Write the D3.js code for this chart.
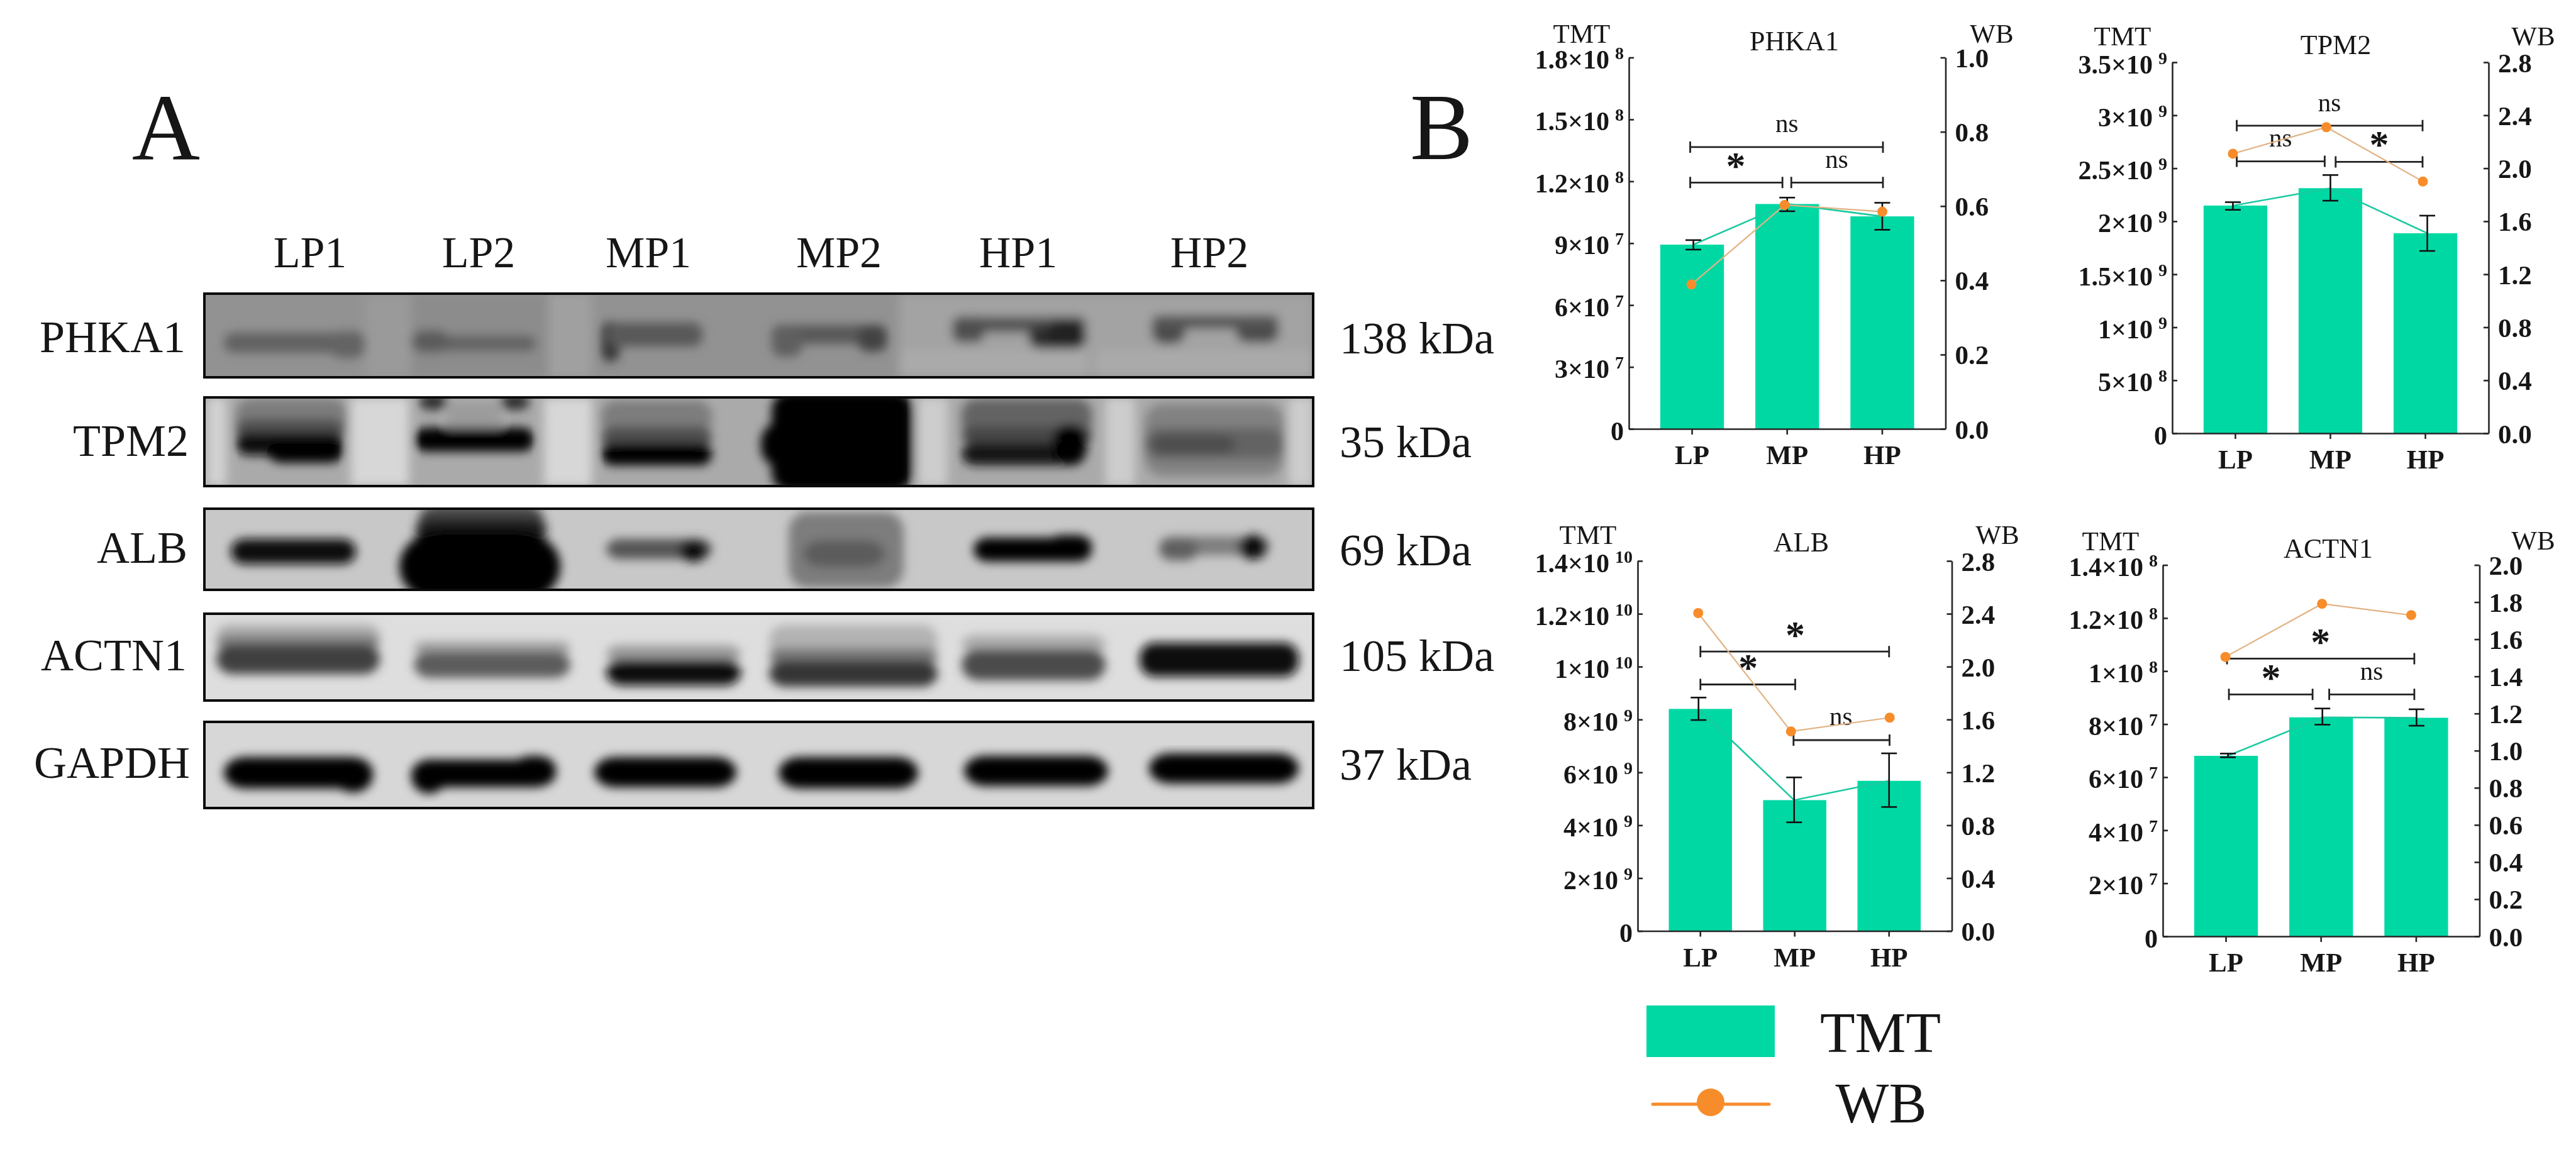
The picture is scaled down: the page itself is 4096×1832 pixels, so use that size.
<!DOCTYPE html>
<html>
<head>
<meta charset="utf-8">
<script src="https://cdn.jsdelivr.net/npm/d3@7/dist/d3.min.js"></script>
<style>
html,body{margin:0;padding:0;background:#fff;}
svg{display:block;filter:blur(0.7px);}
text{font-family:"Liberation Serif","Times New Roman",serif;fill:#161616;}
</style>
</head>
<body>
<div id="chart"></div>
<script>
// ---------- Panel B data ----------
const groups = ["LP","MP","HP"];

const phka1Tmt = [8.93e7,1.09e8,1.03e8];
const phka1Hi  = [9.15e7,1.121e8,1.096e8];
const phka1Lo  = [8.69e7,1.055e8,9.65e7];
const phka1Wb  = [0.389,0.603,0.585];
const phka1LeftTicks  = [0,3e7,6e7,9e7,1.2e8,1.5e8,1.8e8];
const phka1LeftLabels = ["0","3×10^7","6×10^7","9×10^7","1.2×10^8","1.5×10^8","1.8×10^8"];
const phka1RightTicks = [0,0.2,0.4,0.6,0.8,1.0];

const tpm2Tmt = [2.148e9,2.312e9,1.887e9];
const tpm2Hi  = [2.18e9,2.436e9,2.053e9];
const tpm2Lo  = [2.108e9,2.194e9,1.72e9];
const tpm2Wb  = [2.11,2.31,1.90];
const tpm2LeftTicks  = [0,5e8,1e9,1.5e9,2e9,2.5e9,3e9,3.5e9];
const tpm2LeftLabels = ["0","5×10^8","1×10^9","1.5×10^9","2×10^9","2.5×10^9","3×10^9","3.5×10^9"];
const tpm2RightTicks = [0,0.4,0.8,1.2,1.6,2.0,2.4,2.8];

const albTmt = [8.40e9,4.95e9,5.68e9];
const albHi  = [8.83e9,5.81e9,6.72e9];
const albLo  = [7.98e9,4.11e9,4.69e9];
const albWb  = [2.405,1.51,1.614];
const albLeftTicks  = [0,2e9,4e9,6e9,8e9,1e10,1.2e10,1.4e10];
const albLeftLabels = ["0","2×10^9","4×10^9","6×10^9","8×10^9","1×10^10","1.2×10^10","1.4×10^10"];
const albRightTicks = [0,0.4,0.8,1.2,1.6,2.0,2.4,2.8];

const actn1Tmt = [6.805e7,8.256e7,8.24e7];
const actn1Hi  = [6.89e7,8.59e7,8.56e7];
const actn1Lo  = [6.75e7,7.98e7,7.94e7];
const actn1Wb  = [1.505,1.791,1.73];
const actn1LeftTicks  = [0,2e7,4e7,6e7,8e7,1e8,1.2e8,1.4e8];
const actn1LeftLabels = ["0","2×10^7","4×10^7","6×10^7","8×10^7","1×10^8","1.2×10^8","1.4×10^8"];
const actn1RightTicks = [0,0.2,0.4,0.6,0.8,1.0,1.2,1.4,1.6,1.8,2.0];

// significance brackets: from / to on the group index, level and label height on the TMT axis
const phka1Sig = [
  {from:-0.02,to:2.007,level:1.366e8,at:0.996,labelLevel:1.475e8,label:"ns"},
  {from:-0.02,to:0.95,level:1.194e8,at:0.46,labelLevel:1.304e8,label:"*"},
  {from:1.043,to:2.007,level:1.194e8,at:1.52,labelLevel:1.304e8,label:"ns"}];
const tpm2Sig = [
  {from:0.014,to:1.97,level:2.902e9,at:0.99,labelLevel:3.11e9,label:"ns"},
  {from:0.014,to:0.94,level:2.565e9,at:0.476,labelLevel:2.78e9,label:"ns"},
  {from:1.055,to:1.97,level:2.56e9,at:1.513,labelLevel:2.78e9,label:"*"}];
const albSig = [
  {from:0,to:2.0,level:10.57e9,at:1.005,labelLevel:11.42e9,label:"*"},
  {from:0,to:1.005,level:9.325e9,at:0.507,labelLevel:10.18e9,label:"*"},
  {from:0.987,to:2.005,level:7.22e9,at:1.49,labelLevel:8.08e9,label:"ns"}];
const actn1Sig = [
  {from:0.01,to:1.98,level:1.047e8,at:0.993,labelLevel:1.132e8,label:"*"},
  {from:0.03,to:0.91,level:9.12e7,at:0.473,labelLevel:9.97e7,label:"*"},
  {from:1.085,to:1.98,level:9.12e7,at:1.53,labelLevel:9.97e7,label:"ns"}];

// ---------- Panel A data ----------
const laneLabels = ["LP1","LP2","MP1","MP2","HP1","HP2"];
const proteinLabels = ["PHKA1","TPM2","ALB","ACTN1","GAPDH"];
const massLabels = ["138 kDa","35 kDa","69 kDa","105 kDa","37 kDa"];

// gel patches: [x0, x1, y0, y1, grey, corner], in gel units from the top-left of each strip
const phka1Gel = [[547,616,0,133,160],[1105,1763,0,133,163],[256,329,0,133,154],
  [329,547,0,133,140],[1105,1400,90,133,170],[1420,1763,90,133,170],
  [31,256,62,94,98,16],[200,256,60,102,100,16],[329,528,66,92,100,14],[329,390,58,94,92,20],
  [631,792,50,78,85,14],[631,660,45,108,55,14],[640,792,46,84,88,16],[902,1085,50,80,88,14],[1040,1085,50,92,66,14],[902,950,54,100,95,16],
  [1189,1403,36,62,85,14],[1189,1240,36,78,80,14],[1310,1403,50,88,45,20],[1340,1400,42,84,32,20],
  [1506,1560,38,80,72,20],[1640,1709,42,78,72,20],[1506,1709,34,56,85,14]];
const tpm2Gel = [[233,325,0,141,215],[540,616,0,141,215],[1135,1181,0,141,205],[1433,1479,0,141,205],[1724,1763,0,141,205],[4,35,0,141,210],
  [50,226,2,70,125,24],[50,222,34,70,80,20],[50,222,56,92,8,20],[100,222,70,104,0,24],
  [341,386,-6,20,45,20],[471,517,-6,20,45,20],[386,471,10,50,155],[333,524,48,86,0,18],
  [631,807,5,60,125,24],[631,807,46,80,80,20],[631,807,72,108,0,18],
  [902,1127,-10,150,0,30],[885,1127,40,110,0,30],
  [1204,1411,2,62,100,24],[1204,1411,46,75,70,20],[1204,1400,72,108,25,22],[1349,1403,42,104,0,24],
  [1495,1717,10,125,130,30],[1495,1717,48,98,100,24],[1505,1640,60,90,78,22]];
const albGel = [[42,241,48,88,8,22],[340,540,-6,42,70,30],[335,545,16,50,30,30],[310,566,34,150,0,70],
  [639,807,48,80,85,22],[755,800,50,84,15,20],
  [929,1112,5,126,125,30],[952,1082,50,93,92,30],
  [1223,1411,46,84,5,22],[1340,1411,42,74,0,24],
  [1518,1694,44,74,125,20],[1644,1690,42,80,10,20],[1518,1580,48,82,95,20]];
const actn1Gel = [[19,279,16,52,178,24],[19,279,32,58,130,20],[19,279,48,96,65,26],
  [333,582,44,66,160,20],[333,582,60,102,92,26],
  [639,853,50,78,155,24],[639,853,72,114,14,26],
  [898,1166,18,70,178,24],[898,1166,54,82,120,20],[898,1166,74,116,52,26],
  [1204,1433,34,64,170,24],[1204,1433,56,106,75,26],
  [1487,1740,46,100,10,24]];
const gapdhGel = [[31,268,56,106,0,34],[205,268,58,112,0,30],
  [329,559,60,104,0,34],[329,385,60,114,0,30],[490,559,54,96,0,30],
  [620,846,56,104,0,34],
  [913,1135,56,106,0,34],
  [1208,1437,54,102,0,34],
  [1502,1740,50,98,0,34]];

// ---------- Colours ----------
const teal = "#00d8a4", tealLine = "#1bc99f", orange = "#f78c2b", orangeLine = "#e2b283", ink = "#262626";

// ---------- Layout ----------
const svg = d3.select("#chart").append("svg").attr("width",4096).attr("height",1832).attr("viewBox","0 0 4096 1832");
svg.append("rect").attr("width",4096).attr("height",1832).attr("fill","#fff");
const defs = svg.append("defs");
const blur = defs.append("filter").attr("id","gelBlur").attr("x","-20%").attr("y","-20%").attr("width","140%").attr("height","140%");
blur.append("feGaussianBlur").attr("stdDeviation",8);

const gelXScale = d3.scaleLinear().domain([0,1763]).range([325,2088]);
const strips = [
  {name:0,top:467,bottom:600,bg:146,gel:phka1Gel,nameY:560,massY:562,nameRight:295},
  {name:1,top:632,bottom:773,bg:170,gel:tpm2Gel,nameY:725,massY:727,nameRight:300},
  {name:2,top:809,bottom:938,bg:200,gel:albGel,nameY:895,massY:899,nameRight:298},
  {name:3,top:976,bottom:1114,bg:222,gel:actn1Gel,nameY:1066,massY:1067,nameRight:297},
  {name:4,top:1148,bottom:1285,bg:215,gel:gapdhGel,nameY:1237,massY:1240,nameRight:302}
];
const grey = g => d3.rgb(g,g,g).formatHex();

strips.forEach((s,i)=>{
  const gelY = d3.scaleLinear().domain([0,s.bottom-s.top]).range([s.top,s.bottom]);
  defs.append("clipPath").attr("id","strip"+i).append("rect")
    .attr("x",gelXScale(0)).attr("y",s.top).attr("width",gelXScale(1763)-gelXScale(0)).attr("height",s.bottom-s.top);
  const g = svg.append("g").attr("clip-path",`url(#strip${i})`);
  g.append("rect").attr("x",gelXScale(0)).attr("y",s.top).attr("width",1763).attr("height",s.bottom-s.top).attr("fill",grey(s.bg));
  g.append("g").attr("filter","url(#gelBlur)").selectAll("rect").data(s.gel).join("rect")
    .attr("x",d=>gelXScale(d[0])).attr("width",d=>gelXScale(d[1])-gelXScale(d[0]))
    .attr("y",d=>gelY(d[2])).attr("height",d=>gelY(d[3])-gelY(d[2]))
    .attr("rx",d=>d[5]||0).attr("fill",d=>grey(d[4]));
  svg.append("rect").attr("x",gelXScale(0)).attr("y",s.top).attr("width",1763).attr("height",s.bottom-s.top)
    .attr("fill","none").attr("stroke","#0a0a0a").attr("stroke-width",4);
  svg.append("text").attr("x",s.nameRight).attr("y",s.nameY).attr("text-anchor","end").attr("font-size",72).text(proteinLabels[s.name]);
  svg.append("text").attr("x",2130).attr("y",s.massY).attr("font-size",72).text(massLabels[s.name]);
});

const laneCentres = [493,761,1031,1334,1619,1923];
svg.append("g").selectAll("text").data(laneLabels).join("text")
  .attr("x",(d,i)=>laneCentres[i]).attr("y",425).attr("text-anchor","middle").attr("font-size",70).text(d=>d);

svg.append("text").attr("x",264).attr("y",253).attr("text-anchor","middle").attr("font-size",150).text("A");
svg.append("text").attr("x",2292).attr("y",253).attr("text-anchor","middle").attr("font-size",150).text("B");

// ---------- Panels ----------
const panels = [
  {title:"PHKA1",tmt:phka1Tmt,hi:phka1Hi,lo:phka1Lo,wb:phka1Wb,sig:phka1Sig,leftTicks:phka1LeftTicks,leftLabels:phka1LeftLabels,rightTicks:phka1RightTicks,
   leftMax:1.8e8,rightMax:1.0,left:2590,right:3093.5,top:91.5,bottom:682,wbDx:[-1,-4,0],errDx:[2,0,0],
   tmtX:2515,tmtY:67.5,wbX:3167,wbY:67.5,titleX:2853,titleY:80},
  {title:"TPM2",tmt:tpm2Tmt,hi:tpm2Hi,lo:tpm2Lo,wb:tpm2Wb,sig:tpm2Sig,leftTicks:tpm2LeftTicks,leftLabels:tpm2LeftLabels,rightTicks:tpm2RightTicks,
   leftMax:3.5e9,rightMax:2.8,left:3454,right:3957,top:99,bottom:689,wbDx:[-4,-6.5,-4],errDx:[-4,0,3],
   tmtX:3375,tmtY:72,wbX:4028,wbY:72,titleX:3714,titleY:85.5},
  {title:"ALB",tmt:albTmt,hi:albHi,lo:albLo,wb:albWb,sig:albSig,leftTicks:albLeftTicks,leftLabels:albLeftLabels,rightTicks:albRightTicks,
   leftMax:1.4e10,rightMax:2.8,left:2604,right:3103.5,top:892,bottom:1480.5,wbDx:[-3.5,-6,1],errDx:[-3,-1,0],
   tmtX:2525,tmtY:864.5,wbX:3176,wbY:864.5,titleX:2864,titleY:877},
  {title:"ACTN1",tmt:actn1Tmt,hi:actn1Hi,lo:actn1Lo,wb:actn1Wb,sig:actn1Sig,leftTicks:actn1LeftTicks,leftLabels:actn1LeftLabels,rightTicks:actn1RightTicks,
   leftMax:1.4e8,rightMax:2.0,left:3439,right:3942.5,top:898.5,bottom:1489,wbDx:[-1,1.5,-8],errDx:[3,2,0.5],
   tmtX:3356,tmtY:874.5,wbX:4028,wbY:873.5,titleX:3702,titleY:887}
];

panels.forEach(p=>{
  const g = svg.append("g");
  const x = d3.scaleBand().domain(groups).range([p.left,p.right]).padding(0.33);
  const centre = i => x(groups[i]) + x.bandwidth()/2;
  const xIdx = d3.scaleLinear().domain([0,2]).range([centre(0),centre(2)]);
  const yL = d3.scaleLinear().domain([0,p.leftMax]).range([p.bottom,p.top]);
  const yR = d3.scaleLinear().domain([0,p.rightMax]).range([p.bottom,p.top]);

  // bars
  g.selectAll(".bar").data(p.tmt).join("rect").attr("class","bar")
    .attr("x",(d,i)=>x(groups[i])).attr("width",x.bandwidth())
    .attr("y",d=>yL(d)).attr("height",d=>yL(0)-yL(d)).attr("fill",teal);

  // TMT connecting line
  g.append("path").datum(p.tmt)
    .attr("d",d3.line().x((d,i)=>centre(i)+p.errDx[i]).y(d=>yL(d)))
    .attr("fill","none").attr("stroke",tealLine).attr("stroke-width",2.6);

  // error bars
  const err = g.selectAll(".err").data(p.tmt).join("g").attr("class","err")
    .attr("stroke","#111").attr("stroke-width",2.6);
  err.append("line").attr("x1",(d,i)=>centre(i)+p.errDx[i]).attr("x2",(d,i)=>centre(i)+p.errDx[i])
    .attr("y1",(d,i)=>yL(p.hi[i])).attr("y2",(d,i)=>yL(p.lo[i]));
  err.append("line").attr("x1",(d,i)=>centre(i)+p.errDx[i]-12.5).attr("x2",(d,i)=>centre(i)+p.errDx[i]+12.5)
    .attr("y1",(d,i)=>yL(p.hi[i])).attr("y2",(d,i)=>yL(p.hi[i]));
  err.append("line").attr("x1",(d,i)=>centre(i)+p.errDx[i]-12.5).attr("x2",(d,i)=>centre(i)+p.errDx[i]+12.5)
    .attr("y1",(d,i)=>yL(p.lo[i])).attr("y2",(d,i)=>yL(p.lo[i]));

  // significance brackets
  const sig = g.selectAll(".sig").data(p.sig).join("g").attr("class","sig");
  sig.append("path")
    .attr("d",d=>{
      const a=xIdx(d.from), b=xIdx(d.to), y=yL(d.level);
      return `M${a},${y-9}V${y+9}M${a},${y}H${b}M${b},${y-9}V${y+9}`;
    })
    .attr("fill","none").attr("stroke","#222").attr("stroke-width",2.8);
  sig.append("text")
    .attr("x",d=>xIdx(d.at))
    .attr("y",d=>yL(d.labelLevel))
    .attr("dy",d=>d.label==="*"?"0.48em":"0.3em")
    .attr("text-anchor","middle")
    .attr("font-size",d=>d.label==="*"?62:41)
    .attr("font-weight",d=>d.label==="*"?"bold":"normal")
    .text(d=>d.label);

  // WB line and markers
  g.append("path").datum(p.wb)
    .attr("d",d3.line().x((d,i)=>centre(i)+p.wbDx[i]).y(d=>yR(d)))
    .attr("fill","none").attr("stroke",orangeLine).attr("stroke-width",2.2);
  g.selectAll(".dot").data(p.wb).join("circle").attr("class","dot")
    .attr("cx",(d,i)=>centre(i)+p.wbDx[i]).attr("cy",d=>yR(d)).attr("r",8).attr("fill",orange);

  // axes
  const leftAxis = d3.axisLeft(yL).tickValues(p.leftTicks).tickSizeInner(-8).tickSizeOuter(0).tickPadding(8).tickFormat((d,i)=>p.leftLabels[i]);
  const aL = g.append("g").attr("transform",`translate(${p.left},0)`).call(leftAxis);
  aL.selectAll(".tick text").each(function(d,i){
    const parts = p.leftLabels[i].split("^");
    const t = d3.select(this).text(null).attr("dy",17).attr("font-size",42).attr("font-weight","bold").attr("font-family",'"Liberation Serif"');
    t.append("tspan").text(parts[0]);
    if(parts[1]) t.append("tspan").attr("dx",9).attr("dy",-15).attr("font-size",28).text(parts[1]);
  });

  const rightAxis = d3.axisRight(yR).tickValues(p.rightTicks).tickSizeInner(-8).tickSizeOuter(0).tickPadding(15).tickFormat(d3.format(".1f"));
  g.append("g").attr("transform",`translate(${p.right},0)`).call(rightAxis)
    .selectAll(".tick text").attr("dy",15).attr("font-size",43).attr("font-weight","bold").attr("font-family",'"Liberation Serif"');

  const botAxis = d3.axisBottom(x).tickSizeInner(9).tickSizeOuter(0);
  g.append("g").attr("transform",`translate(0,${p.bottom})`).call(botAxis)
    .selectAll(".tick text").attr("y",56).attr("dy",0).attr("font-size",43).attr("font-weight","bold").attr("font-family",'"Liberation Serif"');

  g.selectAll(".domain,.tick line").attr("stroke",ink).attr("stroke-width",2.6);
  g.selectAll(".tick text").attr("fill","#0c0c0c");

  // heads
  g.append("text").attr("x",p.tmtX).attr("y",p.tmtY).attr("text-anchor","middle").attr("font-size",43).text("TMT");
  g.append("text").attr("x",p.wbX).attr("y",p.wbY).attr("text-anchor","middle").attr("font-size",43).text("WB");
  g.append("text").attr("x",p.titleX).attr("y",p.titleY).attr("text-anchor","middle").attr("font-size",44).text(p.title);
});

// ---------- Legend ----------
const legend = svg.append("g");
legend.append("rect").attr("x",2618).attr("y",1599).attr("width",204).attr("height",82).attr("fill",teal);
legend.append("text").attr("x",2990).attr("y",1673).attr("text-anchor","middle").attr("font-size",91).text("TMT");
legend.append("line").attr("x1",2628).attr("x2",2813).attr("y1",1756).attr("y2",1756).attr("stroke",orange).attr("stroke-width",5).attr("stroke-linecap","round");
legend.append("circle").attr("cx",2720).attr("cy",1753).attr("r",22).attr("fill",orange);
legend.append("text").attr("x",2991).attr("y",1785).attr("text-anchor","middle").attr("font-size",90).text("WB");
</script>
</body>
</html>
